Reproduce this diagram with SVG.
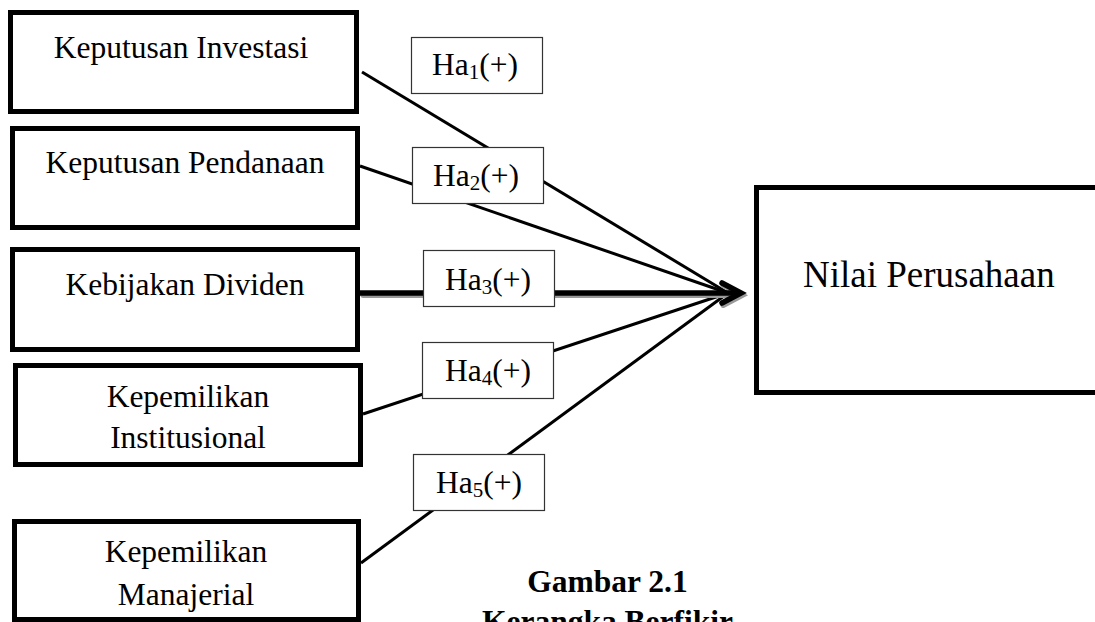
<svg xmlns="http://www.w3.org/2000/svg" width="1095" height="622" viewBox="0 0 1095 622">
<style>
.box{fill:#fff;stroke:#000;stroke-width:5}
.hbox{fill:#fff;stroke:#333;stroke-width:1.2}
.t{font-family:"Liberation Serif","Times New Roman",serif;font-size:31.5px;fill:#000}
.tc{text-anchor:middle}
.sub{font-size:21px}
.big{font-size:37px}
.cap{font-weight:bold;text-anchor:middle}
.ln{stroke:#000;stroke-width:3;fill:none}
.thick{stroke:#000;stroke-width:5.5;fill:none;stroke-linecap:round;stroke-linejoin:miter}
.shadow{stroke:#9a9a9a;stroke-width:5.5;fill:none;stroke-linecap:round}
</style>
<rect width="1095" height="622" fill="#fff"/>
<g id="connectors">
<line class="ln" x1="362" y1="72" x2="728" y2="293"/>
<line class="ln" x1="360" y1="166" x2="728" y2="293"/>
<line class="ln" x1="363" y1="414" x2="728" y2="293"/>
<line class="ln" x1="361" y1="563" x2="728" y2="293"/>
<g transform="translate(1.2,2.2)">
<line class="shadow" x1="362" y1="293" x2="738" y2="293"/>
<path class="shadow" d="M722,283 L741,293 L722,303"/>
</g>
<line class="thick" x1="360" y1="293" x2="738" y2="293"/>
<path class="thick" d="M722,283 L741,293 L722,303"/>
</g>
<g id="keputusan-investasi">
<rect class="box" x="10.5" y="12.5" width="346" height="99"/>
<text class="t tc" x="181" y="58">Keputusan Investasi</text>
</g>
<g id="keputusan-pendanaan">
<rect class="box" x="12.5" y="128.5" width="345" height="99"/>
<text class="t tc" x="185" y="173">Keputusan Pendanaan</text>
</g>
<g id="kebijakan-dividen">
<rect class="box" x="12.5" y="249.5" width="345" height="100"/>
<text class="t tc" x="185" y="295">Kebijakan Dividen</text>
</g>
<g id="kepemilikan-institusional">
<rect class="box" x="15.5" y="365.5" width="345" height="99"/>
<text class="t tc" x="188" y="407">Kepemilikan</text>
<text class="t tc" x="188" y="448">Institusional</text>
</g>
<g id="kepemilikan-manajerial">
<rect class="box" x="14.5" y="521.5" width="344" height="98"/>
<text class="t tc" x="186" y="562">Kepemilikan</text>
<text class="t tc" x="186" y="605">Manajerial</text>
</g>
<g id="nilai-perusahaan">
<rect class="box" x="756.5" y="187.5" width="400" height="205"/>
<text class="t big" x="803" y="287">Nilai Perusahaan</text>
</g>
<g id="ha1">
<rect class="hbox" x="411.5" y="37.5" width="131" height="56"/>
<text class="t" x="432" y="75">Ha<tspan class="sub" dy="4">1</tspan><tspan dy="-4">(+)</tspan></text>
</g>
<g id="ha2">
<rect class="hbox" x="412.5" y="147.5" width="131" height="56"/>
<text class="t" x="433" y="186">Ha<tspan class="sub" dy="4">2</tspan><tspan dy="-4">(+)</tspan></text>
</g>
<g id="ha3">
<rect class="hbox" x="423.5" y="250.5" width="131" height="56"/>
<text class="t" x="445" y="290">Ha<tspan class="sub" dy="4">3</tspan><tspan dy="-4">(+)</tspan></text>
</g>
<g id="ha4">
<rect class="hbox" x="422.5" y="342.5" width="131" height="56"/>
<text class="t" x="445" y="381">Ha<tspan class="sub" dy="4">4</tspan><tspan dy="-4">(+)</tspan></text>
</g>
<g id="ha5">
<rect class="hbox" x="413.5" y="454.5" width="131" height="56"/>
<text class="t" x="436" y="493">Ha<tspan class="sub" dy="4">5</tspan><tspan dy="-4">(+)</tspan></text>
</g>
<g id="caption">
<text class="t cap" x="607.5" y="592">Gambar 2.1</text>
<text class="t cap" x="607.5" y="632">Kerangka Berfikir</text>
</g>
</svg>
